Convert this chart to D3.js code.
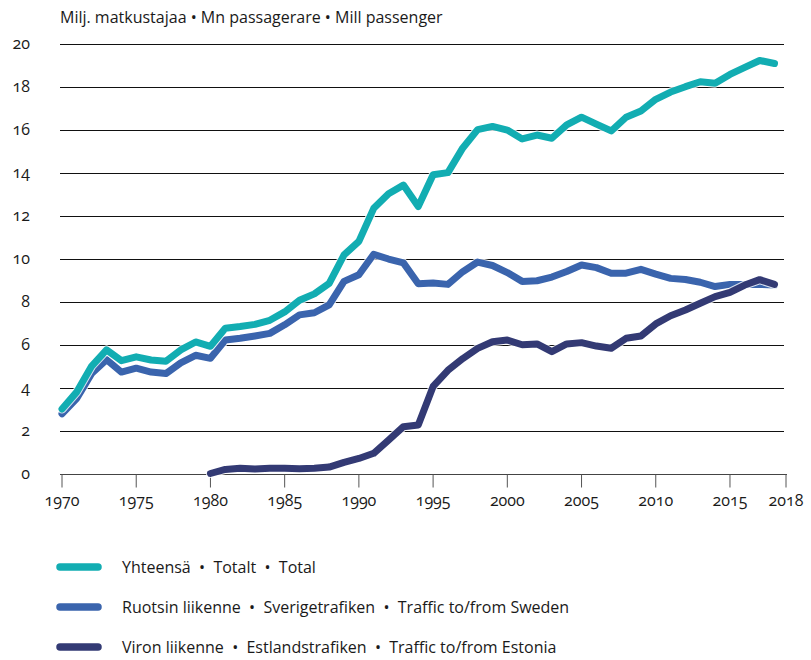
<!DOCTYPE html>
<html lang="fi">
<head>
<meta charset="utf-8">
<style type="text/css">
	body { margin: 0; background: #fff; }
	text { font-family: "Open Sans", Lato, sans-serif; fill: #1a1a1a; font-variant-numeric: oldstyle-nums; }
	.grid line { stroke: #111; stroke-width: 1; }
</style>
</head>
<body>
<script src="https://d3js.org/d3.v7.min.js"></script>
<script type="text/javascript">
// vuodet
var years = d3.range(1970, 2019);

var total = [3.0, 3.8, 5.0, 5.75, 5.25, 5.43, 5.28, 5.22, 5.75, 6.12, 5.92,
	6.76, 6.84, 6.94, 7.13, 7.52, 8.06, 8.36, 8.85, 10.17, 10.8, 12.34, 13.02, 13.42, 12.42, 13.9, 14.0,
	15.15, 16.0, 16.15, 15.98, 15.57, 15.75, 15.6, 16.22, 16.58, 16.26, 15.94, 16.58, 16.87, 17.41,
	17.75, 18.0, 18.23, 18.16, 18.57, 18.9, 19.22, 19.08];

var sweden = [2.78, 3.5, 4.66, 5.3, 4.72, 4.9, 4.72, 4.65, 5.15, 5.5, 5.36,
	6.21, 6.29, 6.4, 6.52, 6.92, 7.38, 7.48, 7.85, 8.94, 9.25, 10.2, 9.98, 9.8, 8.83, 8.86, 8.8,
	9.39, 9.84, 9.68, 9.35, 8.94, 8.97, 9.14, 9.4, 9.7, 9.58, 9.32, 9.32, 9.5, 9.28,
	9.08, 9.03, 8.9, 8.7, 8.8, 8.8, 8.8, 8.77];

// Viro alkaa 1980
var estonia = [null, null, null, null, null, null, null, null, null, null, 0.0,
	0.19, 0.24, 0.21, 0.24, 0.24, 0.22, 0.24, 0.3, 0.52, 0.7, 0.94, 1.55, 2.18, 2.26, 4.05, 4.8,
	5.35, 5.82, 6.13, 6.21, 5.99, 6.03, 5.67, 6.03, 6.09, 5.93, 5.83, 6.29, 6.4, 6.96,
	7.34, 7.61, 7.92, 8.23, 8.43, 8.77, 9.02, 8.8];

var yTicks = [0, 2, 4, 6, 8, 10, 12, 14, 16, 18, 20];
var xTicks = [1970, 1975, 1980, 1985, 1990, 1995, 2000, 2005, 2010, 2015];
var lastYear = 2018;

var title = "Milj. matkustajaa \u2022 Mn passagerare \u2022 Mill passenger";
var seriesNames = [
	"Yhteensä  \u2022  Totalt  \u2022  Total",
	"Ruotsin liikenne  \u2022  Sverigetrafiken  \u2022  Traffic to/from Sweden",
	"Viron liikenne  \u2022  Estlandstrafiken  \u2022  Traffic to/from Estonia"
];
var colors = ["#12adb2", "#3a64ad", "#333a74"];

var width = 811, height = 660;
var x0 = 60, x1 = 786;

var x = d3.scaleLinear().domain([1970, 2018]).range([62, 774.5]);
var y = d3.scaleLinear().domain([0, 20]).range([473.5, 43.7]);

var svg = d3.select("body")
	.append("svg")
	.attr("width", width)
	.attr("height", height);

svg.append("text")
	.attr("x", 60)
	.attr("y", 23)
	.style("font-size", "16px")
	.text(title);

// gridlines
svg.append("g")
	.attr("class", "grid")
	.selectAll("line")
	.data(yTicks.filter(function (d) { return d > 0; }))
	.enter()
	.append("line")
	.attr("x1", x0)
	.attr("x2", x1 - 2)
	.attr("y1", function (d) { return Math.round(y(d)) + 0.5; })
	.attr("y2", function (d) { return Math.round(y(d)) + 0.5; });

svg.append("g")
	.selectAll("text")
	.data(yTicks)
	.enter()
	.append("text")
	.attr("x", 30)
	.attr("y", function (d) { return y(d); })
	.attr("dy", "0.32em")
	.attr("text-anchor", "end")
	.style("font-size", "16px")
	.text(function (d) { return d; });

// x axis
var xAxis = svg.append("g").attr("transform", "translate(0," + (Math.round(y(0)) + 0.5) + ")");
xAxis.append("line")
	.attr("x1", x0).attr("x2", x1 + 1)
	.attr("stroke", "#444").attr("stroke-width", 1);
var tickData = xTicks.map(function (d) { return {label: d, pos: x(d)}; });
tickData.push({label: lastYear, pos: x1});
var tk = xAxis.selectAll(".tick")
	.data(tickData)
	.enter()
	.append("g")
	.attr("class", "tick")
	.attr("transform", function (d) { return "translate(" + d.pos + ",0)"; });
tk.append("line").attr("y2", 13).attr("stroke", "#555").attr("stroke-width", 1);
tk.append("text")
	.attr("y", 31)
	.attr("text-anchor", "middle")
	.style("font-size", "16px")
	.text(function (d) { return d.label; });

// lines
var line = d3.line()
	.defined(function (d) { return d.v != null; })
	.x(function (d) { return x(d.year); })
	.y(function (d) { return y(d.v); });

function pts(arr) {
	return years.map(function (yr, i) { return {year: yr, v: arr[i]}; });
}

var order = [
	{data: sweden, c: colors[1]},
	{data: estonia, c: colors[2]},
	{data: total, c: colors[0]}
];

var lg = svg.append("g");
order.forEach(function (s) {
	lg.append("path")
		.attr("d", line(pts(s.data)))
		.attr("fill", "none")
		.attr("stroke", "#fff")
		.attr("stroke-width", 9)
		.attr("stroke-linejoin", "round")
		.attr("stroke-linecap", "round")
		.attr("stroke-opacity", 0.8);
	lg.append("path")
		.attr("d", line(pts(s.data)))
		.attr("fill", "none")
		.attr("stroke", s.c)
		.attr("stroke-width", 7)
		.attr("stroke-linejoin", "round")
		.attr("stroke-linecap", "round");
});

// legend
var legend = svg.append("g")
	.selectAll("g")
	.data(seriesNames)
	.enter()
	.append("g")
	.attr("transform", function (d, i) { return "translate(0," + (567 + i * 40) + ")"; });
legend.append("line")
	.attr("x1", 60).attr("x2", 98)
	.attr("stroke", function (d, i) { return colors[i]; })
	.attr("stroke-width", 7.5)
	.attr("stroke-linecap", "round");
legend.append("text")
	.attr("x", 122)
	.attr("dy", "0.35em")
	.style("font-size", "16px")
	.style("white-space", "pre")
	.text(function (d) { return d; });
</script>
</body>
</html>
